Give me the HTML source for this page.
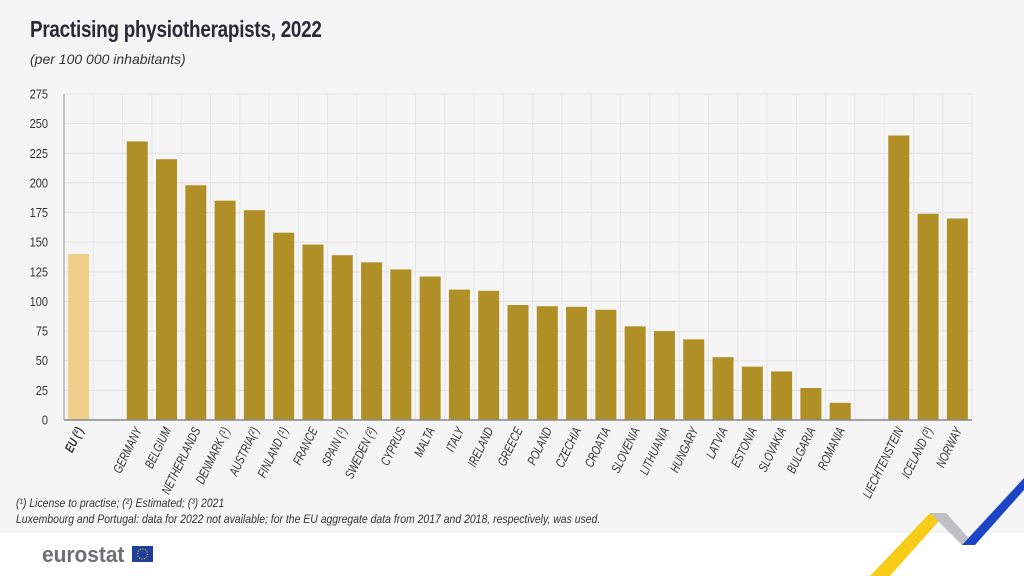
<!DOCTYPE html>
<html><head><meta charset="utf-8"><style>
html,body{margin:0;padding:0}
body{width:1024px;height:576px;position:relative;background:#fff;font-family:"Liberation Sans",sans-serif;overflow:hidden}
#bg{position:absolute;left:0;top:0;width:1024px;height:533px;background:#f5f5f6}
#title{position:absolute;left:30px;top:16px;font-size:23px;font-weight:bold;color:#2a2a35;letter-spacing:-0.3px;transform:scaleX(0.82);transform-origin:left top;white-space:nowrap}
#sub{position:absolute;left:30px;top:51px;font-size:14px;font-style:italic;color:#333}
.note{position:absolute;left:16px;font-size:12px;font-style:italic;color:#333;transform:scaleX(0.87);transform-origin:left top;white-space:nowrap}
svg{position:absolute;left:0;top:0}
</style></head><body>
<div id="bg"></div>
<div id="title">Practising physiotherapists, 2022</div>
<div id="sub">(per 100 000 inhabitants)</div>
<div class="note" style="top:496px">(¹) License to practise; (²) Estimated; (³) 2021</div>
<div class="note" style="top:512px">Luxembourg and Portugal: data for 2022 not available; for the EU aggregate data from 2017 and 2018, respectively, was used.</div>
<svg id="chart" width="1024" height="576"></svg>
<script>
const categories=["EU (²)","","GERMANY","BELGIUM","NETHERLANDS","DENMARK (¹)","AUSTRIA(²)","FINLAND (¹)","FRANCE","SPAIN (¹)","SWEDEN (²)","CYPRUS","MALTA","ITALY","IRELAND","GREECE","POLAND","CZECHIA","CROATIA","SLOVENIA","LITHUANIA","HUNGARY","LATVIA","ESTONIA","SLOVAKIA","BULGARIA","ROMANIA","","LIECHTENSTEIN","ICELAND (³)","NORWAY"];
const values=[140,null,235,220,198,185,177,158,148,139,133,127,121,110,109,97,96,95.5,93,79,75,68,53,45,41,27,14.5,null,240,174,170];
const ticks=[0,25,50,75,100,125,150,175,200,225,250,275];
const NS="http://www.w3.org/2000/svg";
const svg=document.getElementById('chart');
const X0=64,X1=972,Y0=420,Y1=94,MAX=275;
const slot=(X1-X0)/categories.length;
const y=v=>Y0-(v/MAX)*(Y0-Y1);
const x=i=>X0+i*slot;
function mk(t,a){const e=document.createElementNS(NS,t);for(const k in a)e.setAttribute(k,a[k]);svg.appendChild(e);return e;}
ticks.forEach(t=>{
 const l=mk('line',{x1:X0,x2:X1,y1:y(t),y2:y(t),stroke:'#e2e2e2','stroke-width':1});
 
 
 const tx=mk('text',{x:0,y:0,'text-anchor':'end','font-size':13,fill:'#333',transform:`translate(48 ${y(t)+4.5}) scale(0.85 1)`});
 tx.textContent=t;
 
 
});
for(let i=1;i<=categories.length;i++){
 const l=mk('line',{x1:x(i),x2:x(i),y1:Y1,y2:Y0,stroke:'#e6e6e6','stroke-width':1});
 
 
}
categories.forEach((c,i)=>{
 const v=values[i];
 if(v!=null){
  const bw=21,cx=x(i)+slot/2;
  const r=mk('rect',{x:cx-bw/2,y:y(v),width:bw,height:Y0-y(v),fill:i===0?'#f0cf8c':'#b08f26'});
  
  
 }
 if(c){
  const cx=x(i)+slot/2+5, ty=Y0+10;
  const t=mk('text',{x:0,y:0,'text-anchor':'end','font-size':13,fill:'#333','font-style':'italic','font-weight':i===0?'bold':'normal',transform:`translate(${cx} ${ty}) rotate(-64) scale(0.75 1)`});
  t.textContent=c;
  
  
 }
});
const ax=mk('line',{x1:X0,x2:X1,y1:Y0,y2:Y0,stroke:'#888','stroke-width':1.5});


const ay=mk('line',{x1:X0,x2:X0,y1:Y1,y2:Y0,stroke:'#999','stroke-width':1});


</script>
<svg width="1024" height="576">
 <polygon points="870,576 930,513 946,513 890,576" fill="#f7c800" opacity="0.9"/>
 <polygon points="930,513 946,513 975,545 962,545" fill="#bfbfc4"/>
 <polygon points="962,545 975,545 1024,490 1024,478" fill="#1b45c4"/>
 <text x="0" y="0" transform="translate(42 562) scale(0.95 1)" font-size="22" font-weight="bold" fill="#6e6e73" font-family="Liberation Sans,sans-serif">eurostat</text>
 <rect x="132" y="546" width="21" height="16" fill="#1d3f9e"/>
 <circle cx="142.5" cy="554" r="5" fill="none" stroke="#f7c800" stroke-width="1.2" stroke-dasharray="1 1.6"/>
</svg>
</body></html>
